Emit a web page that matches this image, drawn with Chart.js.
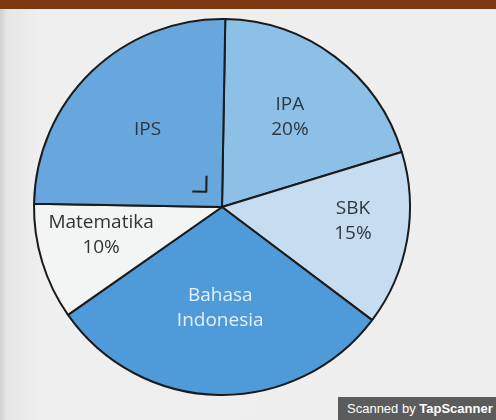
<!DOCTYPE html>
<html>
<head>
<meta charset="utf-8">
<script src="https://cdn.jsdelivr.net/npm/chart.js@4"></script>
<style>
  body { margin: 0; background: #ededed; }
  .page { position: relative; width: 496px; height: 420px; overflow: hidden;
    background: linear-gradient(90deg, #cfcfcf 0px, #e6e6e6 7px, #efefef 40px, #eeeeee 100%); }
  .strip { position: absolute; left: 0; top: 0; width: 496px; height: 9px; background: #7e3811; }
  .box { position: absolute; left: 0; top: 0; width: 496px; height: 420px; }
  .scan { position: absolute; left: 338px; top: 397px; width: 158px; height: 23px;
    background: #5c5c5c; color: #fff; font: 13px "Liberation Sans", Arial, sans-serif;
    line-height: 23px; padding-left: 9px; box-sizing: border-box; }
</style>
</head>
<body>
<div class="page">
  <div class="box"><canvas id="pie"></canvas></div>
  <div class="strip"></div>
  <div class="scan">Scanned by <b>TapScanner</b></div>
</div>
<script>
const subjects = ["IPA", "SBK", "Bahasa Indonesia", "Matematika", "IPS"];
const percents = [20, 15, 30, 10, 25];
const showPercent = [true, true, false, true, false];
const colors = ["#8cc0e6", "#c6ddf1", "#4f9bd9", "#f3f4f4", "#67a7dd"];

// teks label di dalam irisan
const sliceLabels = {
  id: "sliceLabels",
  afterDatasetsDraw(chart, args, opts) {
    const ctx = chart.ctx;
    const arcs = chart.getDatasetMeta(0).data;
    ctx.save();
    ctx.font = opts.font;
    ctx.textAlign = "center";
    ctx.textBaseline = "middle";
    arcs.forEach((arc, i) => {
      const mid = (arc.startAngle + arc.endAngle) / 2 + opts.shift[i] * Math.PI / 180;
      const r = arc.outerRadius * opts.dist[i];
      const x = arc.x + Math.cos(mid) * r;
      const y = arc.y + Math.sin(mid) * r;
      let lines = subjects[i].split(" ");
      if (showPercent[i]) lines = [subjects[i], percents[i] + "%"];
      ctx.fillStyle = opts.colors[i];
      const top = y - (lines.length - 1) * opts.lineHeight / 2;
      lines.forEach((t, k) => ctx.fillText(t, x, top + k * opts.lineHeight));
    });

    // tanda siku-siku di irisan IPS
    const ips = arcs[subjects.indexOf("IPS")];
    const a = ips.startAngle, b = ips.endAngle;
    const ua = [Math.cos(a), Math.sin(a)], ub = [Math.cos(b), Math.sin(b)];
    const cx = ips.x + ua[0] * 16 + ub[0] * 15;
    const cy = ips.y + ua[1] * 16 + ub[1] * 15;
    ctx.strokeStyle = "#1c1c1c";
    ctx.lineWidth = 2;
    ctx.beginPath();
    ctx.moveTo(cx + ua[0] * 14, cy + ua[1] * 14);
    ctx.lineTo(cx, cy);
    ctx.lineTo(cx + ub[0] * 16, cy + ub[1] * 16);
    ctx.stroke();
    ctx.restore();
  },
};

new Chart(document.getElementById("pie"), {
  type: "pie",
  data: {
    labels: subjects,
    datasets: [
      {
        data: percents,
        backgroundColor: colors,
        borderColor: "#1b1b1b",
        borderWidth: 2,
      },
    ],
  },
  options: {
    responsive: true,
    maintainAspectRatio: false,
    animation: false,
    radius: 188,
    rotation: 1,
    layout: { padding: { left: 0, right: 52, top: 0, bottom: 6 } },
    events: [],
    plugins: {
      legend: { display: false },
      tooltip: { enabled: false },
      sliceLabels: {
        font: "19px 'Open Sans'",
        lineHeight: 25,
        dist: [0.6, 0.7, 0.54, 0.66, 0.57],
        shift: [0, -4, 0, 4, 0],
        colors: ["#2e3740", "#2e3740", "#e4eef6", "#333333", "#2e3740"],
      },
    },
  },
  plugins: [sliceLabels],
});
</script>
</body>
</html>
